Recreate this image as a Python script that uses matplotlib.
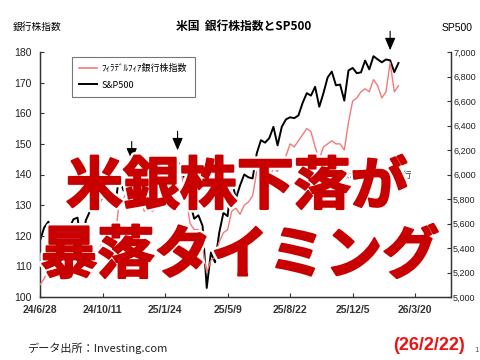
import matplotlib
matplotlib.use("Agg")
import matplotlib.pyplot as plt
import matplotlib.patheffects as pe
from matplotlib import font_manager
from matplotlib.lines import Line2D

names = {f.name for f in font_manager.fontManager.ttflist}
NARROW = 'Liberation Sans Narrow' if 'Liberation Sans Narrow' in names else 'Liberation Sans'
JP = ['Noto Sans CJK JP', 'DejaVu Sans']

# ---- data (weekly) ----
sp500 = [5460, 5567, 5615, 5505, 5459, 5346, 5344, 5554, 5634, 5648,
         5408, 5626, 5702, 5738, 5751, 5815, 5864, 5808, 5729, 5995,
         5870, 5969, 6032, 6090, 6051, 5931, 5970, 5942, 5827, 5997,
         6101, 6041, 6026, 6115, 6013, 5955, 5770, 5639, 5667, 5581,
         5074, 5363, 5283, 5525, 5687, 5660, 5958, 5803, 5912, 6000,
         5977, 5968, 6173, 6280, 6260, 6297, 6389, 6238, 6389, 6450,
         6467, 6460, 6482, 6584, 6664, 6644, 6716, 6553, 6664, 6792,
         6840, 6728, 6734, 6603, 6849, 6870, 6827, 6834, 6930, 6858,
         6966, 6940, 6916, 6939, 6932, 6836, 6910]
bank = [104, 106, 109, 115, 116, 111, 108, 111, 113, 114,
        109, 111, 113, 113, 115, 118, 121, 120, 119, 131,
        132, 135, 139, 137, 134, 128, 129, 128, 129, 135,
        138, 139, 139, 143, 140, 133, 124, 122, 122, 116,
        108, 112, 113, 118, 121, 122, 128, 129, 127, 130,
        131, 133, 141, 140, 138, 139, 142, 141, 144, 146,
        150, 149, 151, 153, 155, 154, 149, 145, 149, 150,
        151, 150, 150, 148, 157, 164, 165, 167, 168, 167,
        171, 169, 165, 167, 176.5, 167, 169]
tick_pos = [0, 15, 30, 45, 60, 75, 90]
tick_labels = ['24/6/28', '24/10/11', '25/1/24', '25/5/9', '25/8/22', '25/12/5', '26/3/20']
arrow_idx = [22, 33, 84]

x = list(range(len(sp500)))

fig = plt.figure(figsize=(4.8, 3.6), dpi=100)
ax = fig.add_axes([40/480, 1-297/360, 411/480, 245/360])
ax2 = ax.twinx()

ax.plot(x, bank, color='#f47a7a', lw=1.0, zorder=3)
ax2.plot(x, sp500, color='black', lw=1.4, zorder=3)

ax.set_xlim(0, 98.6)
ax.set_ylim(100, 180)
ax2.set_ylim(5000, 7000)
ax.set_yticks(range(100, 181, 10))
ax2.set_yticks(range(5000, 7001, 200))
ax2.set_yticklabels([f'{v:,}' for v in range(5000, 7001, 200)])
ax.set_xticks(tick_pos)
ax.set_xticklabels(tick_labels, fontfamily=NARROW, fontweight='bold', fontsize=7.5)

for a in (ax, ax2):
    a.spines['top'].set_visible(False)
    for s in a.spines.values():
        s.set_color('#333333')
        s.set_linewidth(0.9)
    a.tick_params(direction='in', length=3, width=0.8, colors='#333333')
ax.tick_params(axis='y', labelsize=7.5, pad=6)
ax2.tick_params(axis='y', labelsize=6.5, pad=1.5)
ax.tick_params(axis='x', pad=6)
for lab in ax.get_yticklabels() + ax2.get_yticklabels():
    lab.set_fontfamily(NARROW)
    lab.set_color('#222222')
ax.set_zorder(ax2.get_zorder() + 1)
ax.patch.set_visible(False)

# legend
h = [Line2D([], [], color='#f47a7a', lw=1.2), Line2D([], [], color='black', lw=1.4)]
leg = ax.legend(h, ['ﾌｨﾗﾃﾞﾙﾌｨｱ銀行株指数', 'S&P500'], loc='upper left',
                bbox_to_anchor=(32/411, 1-5/245), borderaxespad=0,
                prop={'family': JP, 'size': 6.5},
                frameon=True, fancybox=False, edgecolor='#555555', handlelength=2.0,
                borderpad=0.8, labelspacing=0.8, handletextpad=0.5)
leg.get_frame().set_linewidth(0.8)

# arrows
for i in arrow_idx:
    yv = sp500[i] + 60
    ax2.annotate('', xy=(i, yv), xytext=(i, yv + 200), annotation_clip=False,
                 arrowprops=dict(arrowstyle='-|>,head_length=0.75,head_width=0.32',
                                 color='black', lw=0.8), zorder=5)

# small annotation
ax.text(78.5, 139.8, '銀行株がSP500に先行', fontfamily=JP, fontsize=6.5,
        ha='center', va='center', color='#333333', zorder=4)

# titles
fig.text(244/480, 1-26/360, '米国  銀行株指数とSP500', fontfamily=JP, fontweight='bold',
         fontsize=8.5, ha='center', va='center')
fig.text(37/480, 1-27/360, '銀行株指数', fontfamily=JP, fontsize=7, ha='center', va='center')
fig.text(457/480, 1-28/360, 'SP500', fontfamily=NARROW, fontsize=7.5, ha='center', va='center')

# footer
fig.text(27/480, 1-348/360, 'データ出所：Investing.com', fontfamily=JP, fontsize=8,
         ha='left', va='center', color='#222222')
fig.text(429/480, 1-345/360, '(26/2/22)', fontfamily=NARROW, fontweight='bold', fontsize=13,
         ha='center', va='center', color='#ee1111')
fig.text(476/480, 1-350/360, '1', fontsize=5, ha='center', va='center', color='#555555')

# overlay
effects = [pe.Stroke(linewidth=5, foreground='white'),
           pe.Stroke(linewidth=1.5, foreground='#c80000'), pe.Normal()]
fig.text(237/480, 1-187/360, '米銀株下落が', fontfamily=JP, fontweight='bold', fontsize=41,
         color='#c80000', ha='center', va='center', path_effects=effects, zorder=10)
fig.text(240/480, 1-256/360, '暴落タイミング', fontfamily=JP, fontweight='bold', fontsize=41,
         color='#c80000', ha='center', va='center', path_effects=effects, zorder=10)

fig.savefig('out.png', dpi=100)
